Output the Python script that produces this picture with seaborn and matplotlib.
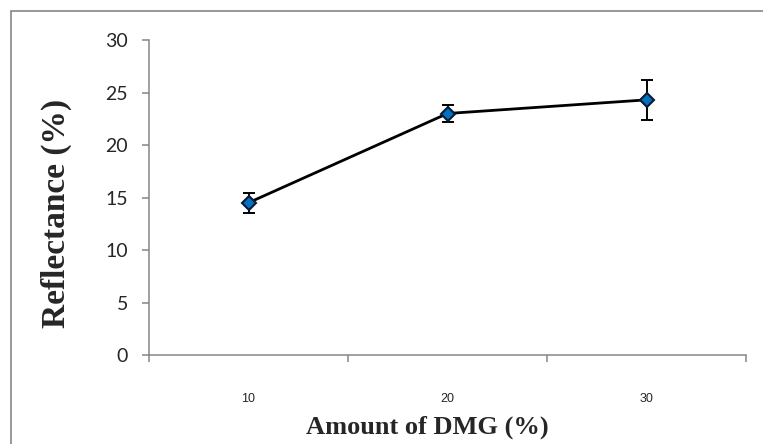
import pandas as pd
import seaborn as sns
import matplotlib.pyplot as plt
from matplotlib.ticker import FixedLocator, NullFormatter

# values
dmg_amount = ["10", "20", "30"]
reflectance = [14.5, 23.0, 24.3]
reflectance_err = [0.95, 0.8, 1.9]

data = pd.DataFrame({"DMG": dmg_amount, "Reflectance": reflectance})

sns.set_style("white")
fig = plt.figure(figsize=(7.63, 4.44), dpi=100)
ax = fig.add_axes([149 / 763, 1 - 355 / 444, (746 - 149) / 763, (355 - 40) / 444])

# error bars first so the markers sit on top
ax.errorbar(range(len(dmg_amount)), reflectance, yerr=reflectance_err,
            fmt="none", ecolor="black", elinewidth=1.4, capsize=4.5,
            capthick=1.4, zorder=2)
sns.pointplot(data=data, x="DMG", y="Reflectance", errorbar=None,
              color="black", markers="D", linewidth=2, ax=ax, zorder=3)
for line in ax.lines:
    if line.get_marker() == "D":
        line.set_markersize(7.5)
        line.set_markerfacecolor("#0070C0")
        line.set_markeredgecolor("#0B1A33")
        line.set_markeredgewidth(1.5)

ax.set_xlim(-0.5, len(dmg_amount) - 0.5)
ax.set_ylim(0, 30)
ax.set_yticks(range(0, 31, 5))

# category labels in the middle, tick marks on the boundaries (Excel style)
ax.xaxis.set_major_locator(FixedLocator([-0.5, 0.5, 1.5, 2.5]))
ax.xaxis.set_major_formatter(NullFormatter())
ax.xaxis.set_minor_locator(FixedLocator(range(len(dmg_amount))))
ax.set_xticklabels(dmg_amount, minor=True)
ax.tick_params(axis="x", which="major", direction="out", length=5,
               width=1.1, color="#868686", bottom=True)
ax.tick_params(axis="x", which="minor", length=0, pad=27,
               labelsize=9, labelfontfamily="Liberation Sans")
ax.tick_params(axis="y", direction="out", length=5, width=1.1,
               color="#868686", left=True, pad=10, labelsize=14)
for lab in ax.get_yticklabels():
    lab.set_fontfamily("Lato")

for side in ["top", "right"]:
    ax.spines[side].set_visible(False)
for side in ["left", "bottom"]:
    ax.spines[side].set_color("#868686")
    ax.spines[side].set_linewidth(1.1)

ax.set_xlabel("Amount of DMG (%)", fontfamily="Liberation Serif",
              fontweight="bold", fontsize=19, labelpad=8)
ax.set_ylabel("Reflectance (%)", fontfamily="Liberation Serif",
              fontweight="bold", fontsize=24, labelpad=24)
# the titles sit a little off-centre in the original
ax.xaxis.label.set_x(0.466)
ax.yaxis.label.set_y(0.45)

# chart-area border (only its left and top edges fall inside the picture)
fig.patches.append(plt.Rectangle((10.5 / 763, -0.2), 1.2, 1.2 - 11 / 444,
                                 transform=fig.transFigure, fill=False,
                                 edgecolor="#868686", linewidth=1.2))

fig.savefig("out.png", dpi=100)
